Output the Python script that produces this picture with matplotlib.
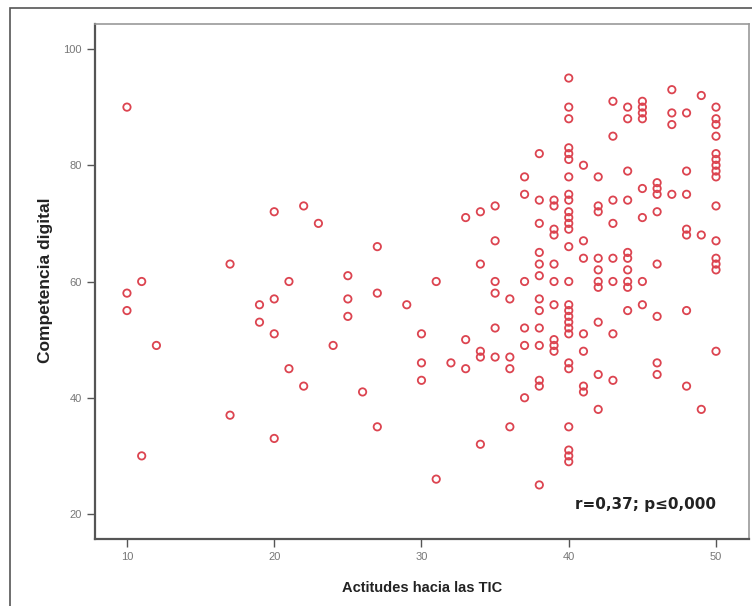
import matplotlib
matplotlib.use('Agg')
import matplotlib.pyplot as plt
from matplotlib.patches import Rectangle

# Actitudes hacia las TIC (x) -> Competencia digital (y), agrupados por valor de x
x_vals = [10, 11, 12, 17, 19, 20, 21, 22, 23, 24, 25, 26, 27, 29, 30, 31, 32,
          33, 34, 35, 36, 37, 38, 39, 40, 41, 42, 43, 44, 45, 46, 47, 48, 49, 50]
y_groups = [
    [90, 58, 55],
    [60, 30],
    [49],
    [63, 37],
    [56, 53],
    [72, 57, 51, 33],
    [60, 45],
    [73, 42],
    [70],
    [49],
    [61, 57, 54],
    [41],
    [66, 58, 35],
    [56],
    [51, 46, 43],
    [60, 26],
    [46],
    [71, 50, 45],
    [72, 63, 48, 47, 32],
    [73, 67, 60, 58, 52, 47],
    [57, 47, 45, 35],
    [78, 75, 60, 52, 49, 40],
    [82, 74, 70, 65, 63, 61, 57, 55, 52, 49, 43, 42, 25],
    [74, 73, 69, 68, 63, 60, 56, 50, 49, 48],
    [95, 90, 88, 83, 82, 81, 78, 75, 74, 72, 71, 70, 69, 66, 60, 56, 55, 54,
     53, 52, 51, 46, 45, 35, 31, 30, 29],
    [80, 67, 64, 51, 48, 42, 41],
    [78, 73, 72, 64, 62, 60, 59, 53, 44, 38],
    [91, 85, 74, 70, 64, 60, 51, 43],
    [90, 88, 79, 74, 65, 64, 62, 60, 59, 55],
    [91, 90, 89, 88, 76, 71, 60, 56],
    [77, 76, 75, 72, 63, 54, 46, 44],
    [93, 89, 87, 75],
    [89, 79, 75, 69, 68, 55, 42],
    [92, 68, 38],
    [90, 88, 87, 85, 82, 81, 80, 79, 78, 73, 67, 64, 63, 62, 48],
]
x_ticks = [10, 20, 30, 40, 50]
y_ticks = [20, 40, 60, 80, 100]
stat_text = "r=0,37; p\u22640,000"

xs = []
ys = []
for xv, grp in zip(x_vals, y_groups):
    for yv in grp:
        xs.append(xv)
        ys.append(yv)

plt.rcParams['font.family'] = ['Liberation Sans', 'DejaVu Sans']

fig = plt.figure(figsize=(7.52, 6.06), dpi=100)
# marco exterior del grafico (estilo SPSS)
fig.patches.append(Rectangle((10 / 752, -0.1), 1.2, 1 - 8 / 606 + 0.1,
                             transform=fig.transFigure, fill=False,
                             edgecolor='#555555', linewidth=1.2))

ax = fig.add_axes([95 / 752, 1 - 539 / 606, (749 - 95) / 752, (539 - 24) / 606])
ax.scatter(xs, ys, s=28, facecolors='none', edgecolors='#dc4450', linewidths=1.3)

ax.set_xlim(7.83, 52.24)
ax.set_ylim(15.7, 104.3)
ax.set_xticks(x_ticks)
ax.set_yticks(y_ticks)
ax.tick_params(direction='out', length=6, width=1, color='#555555',
               labelsize=8, labelcolor='#777777')

for side in ['left', 'bottom']:
    ax.spines[side].set_color('#555555')
    ax.spines[side].set_linewidth(1.6)
for side in ['top', 'right']:
    ax.spines[side].set_color('#999999')
    ax.spines[side].set_linewidth(1.2)

ax.set_xlabel("Actitudes hacia las TIC", fontsize=10.5, fontweight='bold',
              color='#222222')
ax.set_ylabel("Competencia digital", fontsize=12.5, fontweight='bold',
              color='#222222')
ax.xaxis.set_label_coords(0.5, -0.082)
ax.yaxis.set_label_coords(-0.064, 0.503)

ax.text(50.0, 21.7, stat_text, ha='right', va='center', fontsize=11,
        fontweight='bold', color='#222222', family=['DejaVu Sans'])

fig.savefig("out.png", dpi=100)
